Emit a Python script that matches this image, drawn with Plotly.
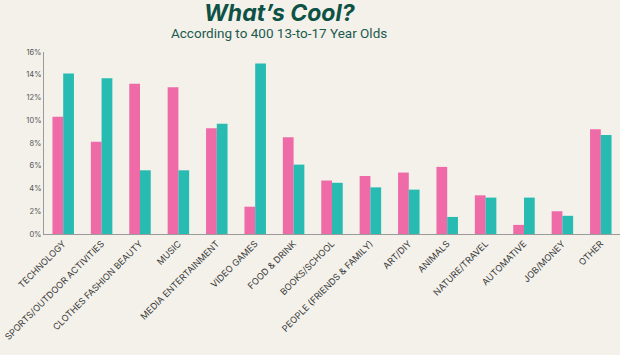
import plotly.graph_objects as go

categories = ["TECHNOLOGY", "SPORTS/OUTDOOR ACTIVITIES", "CLOTHES FASHION BEAUTY", "MUSIC",
              "MEDIA ENTERTAINMENT", "VIDEO GAMES", "FOOD & DRINK", "BOOKS/SCHOOL",
              "PEOPLE (FRIENDS & FAMILY)", "ART/DIY", "ANIMALS", "NATURE/TRAVEL",
              "AUTOMATIVE", "JOB/MONEY", "OTHER"]
pink_values = [10.3, 8.1, 13.2, 12.9, 9.3, 2.4, 8.5, 4.7, 5.1, 5.4, 5.9, 3.4, 0.8, 2.0, 9.2]
teal_values = [14.1, 13.7, 5.6, 5.6, 9.7, 15.0, 6.1, 4.5, 4.1, 3.9, 1.5, 3.2, 3.2, 1.6, 8.7]
y_ticks = [0, 2, 4, 6, 8, 10, 12, 14, 16]

W, H = 620, 355
ML, MR, MT, MB = 44, 0, 52, 121
BG = "#F3F1EA"

fig = go.Figure()
fig.add_trace(go.Bar(x=categories, y=pink_values, marker=dict(color="#EE6BA8", line=dict(width=0)),
                     name="Series 1", hoverinfo="x+y"))
fig.add_trace(go.Bar(x=categories, y=teal_values, marker=dict(color="#27BBB2", line=dict(width=0)),
                     name="Series 2", hoverinfo="x+y"))

plot_w = W - ML - MR
plot_h = H - MT - MB


def px_x(x):
    return (x - ML) / plot_w


def px_y(y):
    return (H - y - MB) / plot_h


fig.update_layout(
    width=W, height=H,
    barmode="group", bargap=0.44, bargroupgap=0,
    showlegend=False,
    paper_bgcolor=BG, plot_bgcolor="rgba(0,0,0,0)",
    margin=dict(l=ML, r=MR, t=MT, b=MB, pad=0),
    font=dict(family="Inter, Lato, sans-serif", color="#444"),
    xaxis=dict(range=[-0.5, 14.5], tickangle=-45, tickfont=dict(size=9, color="#3a3a3a"),
               showline=True, linecolor="#9a9a9a", linewidth=1, ticks="", showgrid=False,
               automargin=False),
    yaxis=dict(range=[0, 16], tickvals=y_ticks, ticktext=[f"{v}%" for v in y_ticks],
               tickfont=dict(size=7.5, color="#555"), showline=True, linecolor="#9a9a9a",
               linewidth=1, showgrid=False, zeroline=False, ticks="", automargin=False),
    annotations=[
        dict(text="<b><i>What’s Cool?</i></b>", x=px_x(280), y=px_y(13), xref="paper", yref="paper",
             showarrow=False, font=dict(size=23, color="#0D5245", family="Inter, Lato, sans-serif"),
             xanchor="center", yanchor="middle"),
        dict(text="According to 400 13-to-17 Year Olds", x=px_x(279), y=px_y(33), xref="paper",
             yref="paper", showarrow=False,
             font=dict(size=13.5, color="#1C5A4E", family="Roboto, Inter, sans-serif"),
             xanchor="center", yanchor="middle"),
    ],
)

fig.write_html("out.html", config={"displayModeBar": False},
               post_script=f"document.body.style.margin='0';document.body.style.background='{BG}';")
